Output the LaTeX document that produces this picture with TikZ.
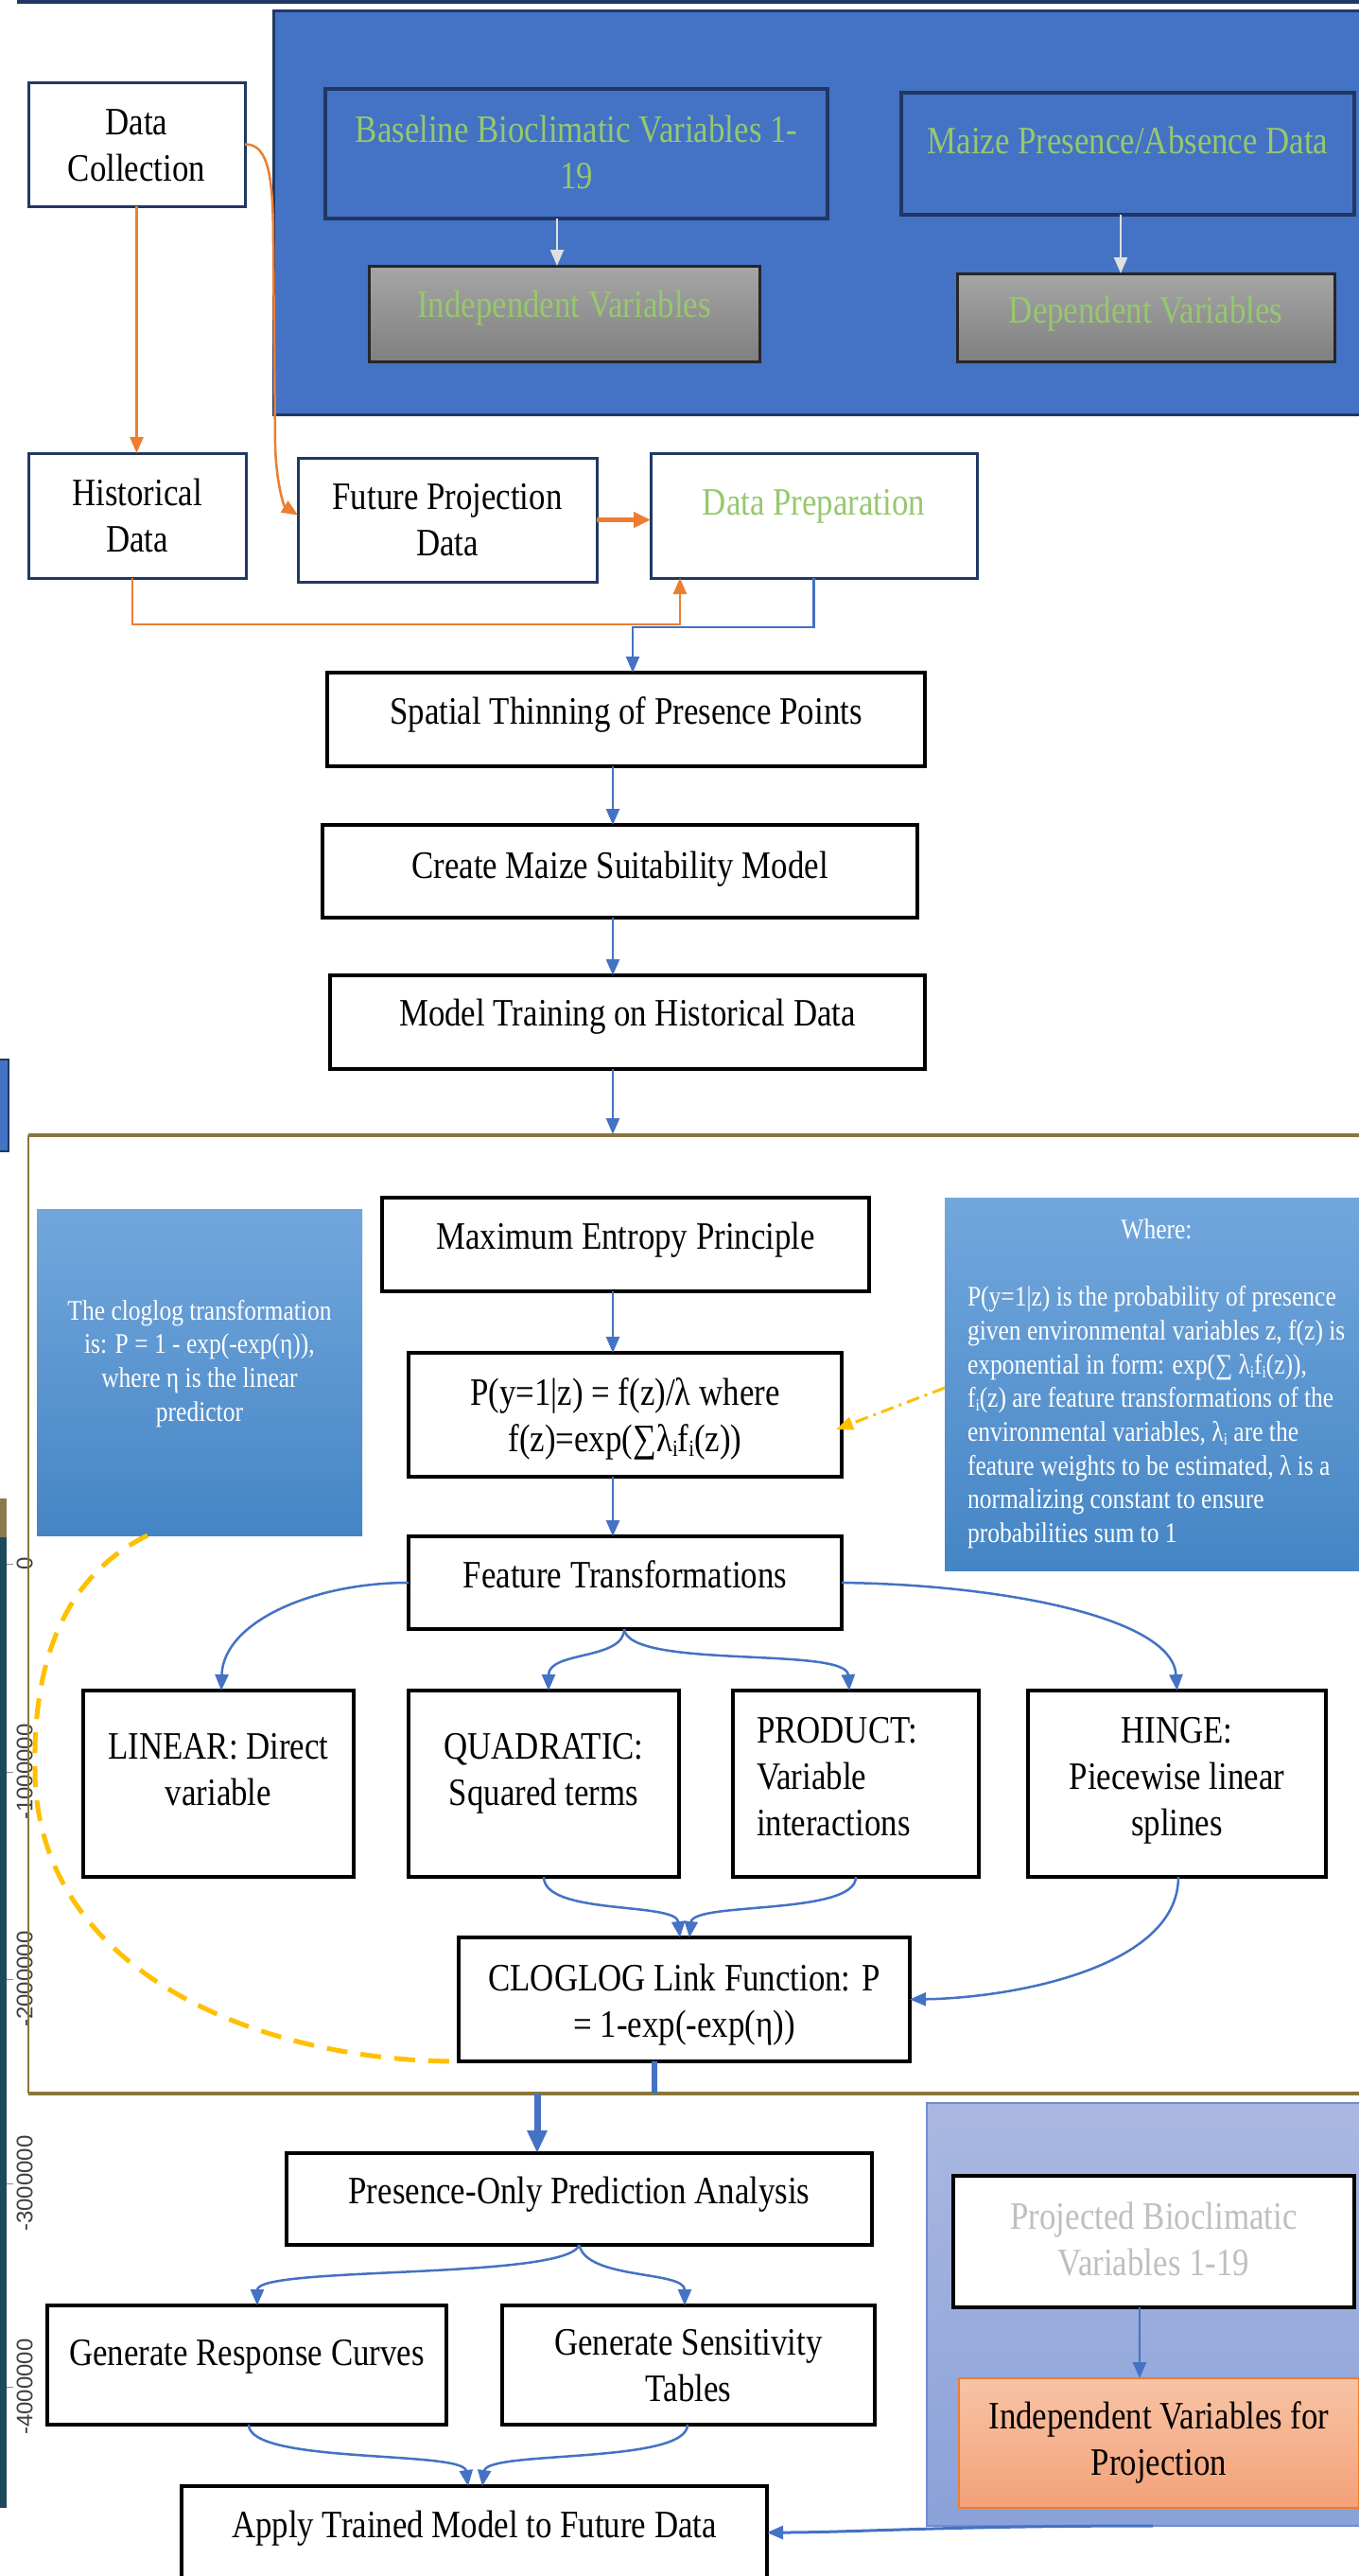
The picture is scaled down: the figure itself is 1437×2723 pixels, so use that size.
\documentclass[tikz,border=0pt]{standalone}
\usepackage{fontspec}
\setmainfont{Liberation Serif}[FakeStretch=0.85]
\newfontfamily\axisfont{Liberation Sans}
\usetikzlibrary{arrows.meta}
\definecolor{navy}{HTML}{203864}
\definecolor{mblue}{HTML}{4472C4}
\definecolor{lgreen}{RGB}{150,200,110}
\definecolor{oran}{HTML}{ED7D31}
\definecolor{gold}{RGB}{139,117,56}
\definecolor{yel}{HTML}{FFC000}
\definecolor{notetop}{HTML}{72A7DC}
\definecolor{notebot}{HTML}{4585C5}
\definecolor{regtop}{HTML}{AAB8E1}
\definecolor{regbot}{HTML}{8AA1D9}
\definecolor{regbor}{HTML}{6E8CD5}
\definecolor{ivptop}{HTML}{F8C3A5}
\definecolor{ivpbot}{HTML}{F3A178}
\definecolor{mapc}{HTML}{1C4A5C}
\definecolor{mapb}{HTML}{8A7A50}
\newcommand{\tb}[4]{\parbox[c][#2pt][t]{#1pt}{\centering\vspace*{#3pt}\strut#4\par}}
\newcommand{\tbl}[5]{\parbox[c][#2pt][t]{#1pt}{\raggedright\leftskip=#5pt\vspace*{#3pt}\strut#4\par}}
\newcommand{\sbi}{\raisebox{-0.3ex}{\scalebox{0.6}{i}}}
\tikzset{
  base/.style={inner sep=0pt, outer sep=0pt, anchor=north west, font=\fontsize{41}{49}\selectfont},
  nbox/.style={base, draw=navy, line width=3pt, fill=white},
  kbox/.style={base, draw=black, line width=3.5pt, fill=white},
  bbox/.style={base, draw=navy, line width=3.5pt, fill=mblue, text=lgreen},
  gbox/.style={base, draw=black!85, line width=3pt, top color=black!35, bottom color=black!50, text=lgreen},
  note/.style={base, top color=notetop, bottom color=notebot, text=white, font=\fontsize{30}{35.7}\selectfont},
  barr/.style={draw=mblue, line width=2.5pt, -{Triangle[length=17pt,width=14pt]}},
  oarr/.style={draw=oran, line width=2.5pt, -{Triangle[length=17pt,width=14pt]}},
  warr/.style={draw=black!12, line width=2.5pt, -{Triangle[length=17pt,width=14pt]}},
  axl/.style={rotate=90, font=\axisfont\fontsize{24}{28}\selectfont, text=black!75, inner sep=0pt},
}
\begin{document}
\begin{tikzpicture}[x=1pt,y=1pt]
\useasboundingbox (0,0) rectangle (1437,-2723);
\fill[white] (0,0) rectangle (1437,-2723);

% top line and left-edge fragments
\draw[navy, line width=4pt] (18,-2) -- (1440,-2);
\node[base, draw=navy, line width=2pt, fill=mblue, minimum width=14pt, minimum height=97pt] (lbx) at (-5,-1120) {};
\fill[mapc] (0,-1584) rectangle (7,-2651);
\fill[mapb] (0,-1584) rectangle (7,-1625);
\foreach \yy in {1653,1873,2092,2308,2523} \draw[black!45, line width=1pt] (7,-\yy) -- (14,-\yy);
\node[axl] (a0) at (26,-1653) {0};
\node[axl] (a1) at (26,-1873) {-1000000};
\node[axl] (a2) at (26,-2092) {-2000000};
\node[axl] (a3) at (26,-2308) {-3000000};
\node[axl] (a4) at (26,-2523) {-4000000};

% blue top panel
\node[base, draw=navy, line width=3pt, fill=mblue, minimum width=1160pt, minimum height=427pt] (bluebg) at (289,-11) {};
\node[bbox] (bl) at (344,-94) {\tb{531}{137}{21.7}{Baseline Bioclimatic Variables 1-\\19}};
\node[gbox] (ind) at (390,-281) {\tb{413}{101}{19.7}{Independent Variables}};
\node[bbox] (mz) at (953,-98) {\tb{479}{129}{29.7}{Maize Presence/Absence Data}};
\node[gbox] (dep) at (1012,-289) {\tb{399}{93}{17.7}{Dependent Variables}};

% data boxes
\node[nbox] (dc) at (30,-87) {\tb{229}{131}{20.7}{Data\\Collection}};
\node[nbox] (hist) at (30,-479) {\tb{230}{132}{20.7}{Historical\\Data}};
\node[nbox] (fp) at (315,-484) {\tb{316}{131}{19.7}{Future Projection\\Data}};
\node[nbox, text=lgreen] (dp) at (688,-479) {\tb{345}{132}{30.7}{Data Preparation}};

\node[kbox] (sp) at (346,-711) {\tb{632}{99}{19.7}{Spatial Thinning of Presence Points}};
\node[kbox] (cr) at (341,-872) {\tb{629}{98}{21.7}{Create Maize Suitability Model}};
\node[kbox] (mt) at (349,-1031) {\tb{629}{99}{18.7}{Model Training on Historical Data}};

% gold frame
\draw[gold, line width=4pt] (1440,-1200) -- (30,-1200);
\draw[gold, line width=2pt] (30,-1200) -- (30,-2213);
\draw[gold, line width=4pt] (30,-2213) -- (1440,-2213);

% notes
\node[note] (lnote) at (39,-1278) {\tb{344}{345}{92.2}{The cloglog transformation\\is: P = 1 - exp(-exp(η)),\\where η is the linear\\predictor}};
\node[note] (rnote) at (999,-1266) {\parbox[c][394pt][t]{446pt}{\raggedright\leftskip=24pt\vspace*{18.2pt}\strut\makebox[400pt][c]{Where:}\\ \mbox{}\\
P(y=1|z) is the probability of presence\\
given environmental variables z, f(z) is\\
exponential in form: exp(∑ λ\sbi f\sbi(z)),\\
f\sbi(z) are feature transformations of the\\
environmental variables, λ\sbi\ are the\\
feature weights to be estimated, λ is a\\
normalizing constant to ensure\\
probabilities sum to 1\par}};

\node[kbox] (me) at (404,-1266) {\tb{515}{99}{19.7}{Maximum Entropy Principle}};
\node[kbox] (pb) at (432,-1430) {\tb{458}{131}{20.7}{P(y=1|z) = f(z)/λ where\\f(z)=exp(∑λ\sbi f\sbi(z))}};
\node[kbox] (ft) at (432,-1624) {\tb{458}{98}{19.7}{Feature Transformations}};
\node[kbox] (lin) at (88,-1787) {\tb{286}{197}{37.7}{LINEAR: Direct\\variable}};
\node[kbox] (quad) at (432,-1787) {\tb{286}{197}{37.7}{QUADRATIC:\\Squared terms}};
\node[kbox] (prod) at (775,-1787) {\tbl{260}{197}{20.7}{PRODUCT:\\Variable\\interactions}{25}};
\node[kbox] (hinge) at (1087,-1787) {\tb{315}{197}{20.7}{HINGE:\\Piecewise linear\\splines}};
\node[kbox] (clog) at (485,-2048) {\tb{477}{131}{21.7}{CLOGLOG Link Function: P\\= 1-exp(-exp(η))}};

% lower part
\node[kbox] (popa) at (303,-2276) {\tb{619}{97}{18.7}{Presence-Only Prediction Analysis}};
\node[kbox] (grc) at (50,-2437) {\tb{422}{126}{28.7}{Generate Response Curves}};
\node[kbox] (gst) at (531,-2437) {\tb{394}{126}{17.7}{Generate Sensitivity\\Tables}};
\node[kbox] (app) at (192,-2628) {\tb{619}{110}{19.7}{Apply Trained Model to Future Data}};

\node[base, draw=regbor, line width=2pt, top color=regtop, bottom color=regbot, minimum width=470pt, minimum height=447pt] (preg) at (980,-2223) {};
\node[kbox, text=black!25] (pbv) at (1008,-2300) {\tb{424}{139}{21.7}{Projected Bioclimatic\\Variables 1-19}};
\node[base, draw=oran, line width=2pt, top color=ivptop, bottom color=ivpbot] (ivp) at (1014,-2514) {\tb{423}{137}{18.7}{Independent Variables for\\Projection}};

% helper coordinates
\coordinate (x589) at (589,0);
\coordinate (x1185) at (1185,0);
\coordinate (x648) at (648,0);
\coordinate (x568) at (568,0);
\coordinate (ftop) at (648,-1199);
\coordinate (fbot1) at (692,-2213);
\coordinate (fbot2) at (568,-2213);

% white arrows
\draw[warr] (x589 |- bl.south) -- (x589 |- ind.north);
\draw[warr] (x1185 |- mz.south) -- (x1185 |- dep.north);

% orange connectors
\draw[oarr] (dc.south) -- (dc.south |- hist.north);
\draw[oarr] (dc.east) .. controls (285,-152) and (289,-190) .. (289,-260) -- (291,-470) .. controls (292,-510) and (300,-535) .. ([yshift=5pt]fp.west);
\draw[oarr, line width=4.5pt, -{Triangle[length=18pt,width=16pt]}] (fp.east) -- (fp.east -| dp.west);
\draw[oarr] ([xshift=-5pt]hist.south) -- ++(0,-49) -| ([xshift=31pt]dp.south west);

% blue connectors
\draw[barr] (dp.south) -- ++(0,-52) -| ([xshift=7pt]sp.north);
\draw[barr] (x648 |- sp.south) -- (x648 |- cr.north);
\draw[barr] (x648 |- cr.south) -- (x648 |- mt.north);
\draw[barr] (x648 |- mt.south) -- (ftop);
\draw[barr] (x648 |- me.south) -- (x648 |- pb.north);
\draw[barr] (x648 |- pb.south) -- (x648 |- ft.north);

\draw[barr] (ft.west) .. controls (330,-1673) and (236,-1715) .. ([xshift=3pt]lin.north);
\draw[barr] (ft.east) .. controls (1060,-1675) and (1240,-1710) .. (hinge.north);
\draw[barr] ([xshift=-1pt]ft.south) .. controls (660,-1755) and (580,-1745) .. ([xshift=5pt]quad.north);
\draw[barr] ([xshift=-1pt]ft.south) .. controls (665,-1765) and (895,-1740) .. ([xshift=-7pt]prod.north);
\draw[barr] (quad.south) .. controls (575,-2025) and (715,-2010) .. ([xshift=-4.5pt]clog.north);
\draw[barr] (prod.south) .. controls (905,-2025) and (733,-2010) .. ([xshift=5.5pt]clog.north);
\draw[barr] ([xshift=1.5pt]hinge.south) .. controls (1246,-2080) and (1070,-2112) .. (clog.east);

\draw[mblue, line width=6pt] ([xshift=-31.5pt]clog.south) -- (fbot1);
\draw[mblue, line width=7pt, -{Triangle[length=24pt,width=20pt]}] (fbot2) -- (x568 |- popa.north);

\draw[barr] (popa.south) .. controls (600,-2410) and (272,-2395) .. ([xshift=11pt]grc.north);
\draw[barr] (popa.south) .. controls (620,-2410) and (724,-2400) .. ([xshift=-4pt]gst.north);
\draw[barr] ([xshift=2pt]grc.south) .. controls (263,-2605) and (490,-2590) .. ([xshift=-6.5pt]app.north);
\draw[barr] ([xshift=-1pt]gst.south) .. controls (727,-2605) and (515,-2590) .. ([xshift=8.5pt]app.north);
\draw[barr] ([xshift=-15pt]pbv.south) -- ([xshift=-15pt]pbv.south |- ivp.north);
\draw[barr, line width=3pt] ([xshift=4pt]preg.south) .. controls (1000,-2670) and (900,-2677) .. ([yshift=-49pt]app.north east);

% yellow connectors
\draw[yel, line width=3pt, dash pattern=on 14pt off 6pt on 3pt off 6pt, -{Triangle[length=18pt,width=14pt]}] ([yshift=-201pt]rnote.north west) -- ([xshift=-6pt,yshift=-15.5pt]pb.east);
\draw[yel, line width=5pt, dash pattern=on 22pt off 14pt] ([xshift=117pt]lnote.south west) .. controls (60,-1670) and (35,-1770) .. (37,-1870) to[out=-90,in=180] (clog.south west);
\end{tikzpicture}
\end{document}
